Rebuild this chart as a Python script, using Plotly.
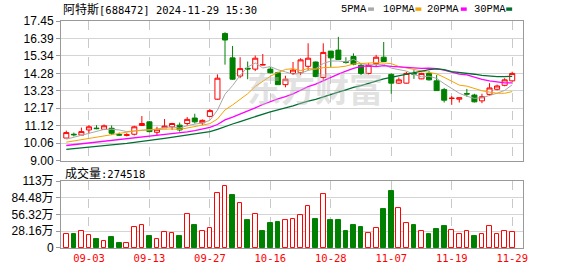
import plotly.graph_objects as go

# ---------------- data ----------------
dates = ["08-29", "08-30", "09-02", "09-03", "09-04", "09-05", "09-06", "09-09", "09-10", "09-11",
         "09-12", "09-13", "09-18", "09-19", "09-20", "09-23", "09-24", "09-25", "09-26", "09-27",
         "09-30", "10-08", "10-09", "10-10", "10-11", "10-14", "10-15", "10-16", "10-17", "10-18",
         "10-21", "10-22", "10-23", "10-24", "10-25", "10-28", "10-29", "10-30", "10-31", "11-01",
         "11-04", "11-05", "11-06", "11-07", "11-08", "11-11", "11-12", "11-13", "11-14", "11-15",
         "11-18", "11-19", "11-20", "11-21", "11-22", "11-25", "11-26", "11-27", "11-28", "11-29"]

opens = [10.37, 10.60, 10.55, 10.86, 10.97, 10.90, 10.96, 10.58, 10.53, 10.60,
         11.13, 11.35, 10.72, 10.99, 11.05, 11.15, 11.25, 11.58, 11.29, 11.68,
         12.72, 16.69, 15.22, 14.12, 14.59, 14.54, 14.79, 14.54, 14.32, 13.60,
         14.28, 14.32, 14.71, 14.97, 14.03, 15.63, 15.69, 14.99, 15.30, 14.77,
         14.28, 14.87, 15.26, 14.22, 13.69, 13.69, 14.28, 13.95, 14.28, 13.83,
         13.30, 12.76, 12.72, 13.06, 12.97, 12.62, 13.01, 13.32, 13.56, 13.83]

highs = [10.82, 10.70, 11.00, 11.15, 11.15, 11.19, 11.13, 10.70, 10.66, 11.11,
         11.70, 11.39, 11.05, 11.52, 11.29, 11.31, 11.64, 11.84, 11.50, 12.13,
         14.22, 16.77, 15.94, 15.26, 15.00, 15.36, 15.45, 14.67, 14.38, 14.14,
         14.97, 15.20, 16.10, 15.00, 16.10, 15.63, 16.49, 15.26, 15.49, 14.91,
         14.91, 15.40, 16.18, 14.28, 14.03, 14.38, 14.48, 14.32, 14.42, 14.18,
         13.40, 12.91, 12.82, 13.34, 13.05, 13.05, 13.69, 13.60, 13.99, 14.38]

lows = [10.37, 10.47, 10.55, 10.66, 10.90, 10.90, 10.55, 10.51, 10.47, 10.53,
        11.13, 10.72, 10.53, 10.99, 10.86, 10.76, 11.09, 11.25, 11.15, 11.64,
        12.68, 14.81, 13.89, 13.99, 13.93, 14.42, 14.77, 14.28, 13.60, 13.44,
        14.18, 14.18, 14.48, 14.05, 13.89, 14.67, 15.10, 14.87, 14.77, 14.18,
        14.22, 14.67, 14.97, 13.05, 13.64, 13.66, 13.95, 13.93, 13.85, 13.24,
        12.52, 12.38, 12.52, 12.87, 12.52, 12.48, 12.95, 13.26, 13.50, 13.79]

closes = [10.70, 10.57, 10.76, 11.05, 10.94, 11.11, 10.66, 10.55, 10.57, 11.05,
          11.25, 10.76, 10.90, 11.09, 11.25, 10.86, 11.50, 11.35, 11.44, 12.03,
          13.99, 16.30, 13.93, 14.57, 14.55, 15.20, 14.81, 14.32, 13.60, 13.93,
          14.48, 15.10, 15.20, 14.09, 15.55, 15.22, 15.12, 14.95, 14.83, 14.28,
          14.77, 15.26, 15.00, 13.69, 13.89, 14.28, 14.24, 14.28, 13.89, 13.24,
          12.66, 12.78, 12.81, 13.03, 12.56, 12.87, 13.40, 13.52, 13.89, 14.28]

ma5 = [10.30, 10.42, 10.55, 10.68, 10.80, 10.89, 10.90, 10.86, 10.76, 10.79,
       10.81, 10.83, 10.90, 11.01, 11.05, 10.97, 11.12, 11.21, 11.28, 11.44,
       12.06, 13.02, 13.54, 14.16, 14.67, 14.91, 14.61, 14.69, 14.50, 14.37,
       14.23, 14.29, 14.46, 14.56, 14.88, 15.03, 15.03, 14.98, 15.13, 14.88,
       14.79, 14.82, 14.83, 14.60, 14.52, 14.42, 14.22, 14.07, 14.11, 13.98,
       13.66, 13.37, 13.08, 12.90, 12.77, 12.81, 12.93, 13.08, 13.25, 13.59]

ma10 = [10.12, 10.20, 10.28, 10.36, 10.44, 10.52, 10.58, 10.64, 10.72, 10.80,
        10.85, 10.87, 10.88, 10.89, 10.92, 10.89, 10.97, 11.06, 11.15, 11.24,
        11.52, 12.07, 12.37, 12.72, 13.05, 13.49, 13.82, 14.11, 14.33, 14.52,
        14.57, 14.45, 14.58, 14.53, 14.63, 14.63, 14.66, 14.72, 14.85, 14.88,
        14.91, 14.93, 14.91, 14.87, 14.70, 14.61, 14.52, 14.45, 14.36, 14.25,
        14.04, 13.79, 13.57, 13.51, 13.38, 13.23, 13.15, 13.08, 13.08, 13.18]

ma20 = [9.92, 9.97, 10.03, 10.08, 10.12, 10.16, 10.20, 10.26, 10.31, 10.37,
        10.43, 10.48, 10.53, 10.58, 10.63, 10.68, 10.74, 10.82, 10.90, 11.02,
        11.19, 11.47, 11.63, 11.81, 11.99, 12.19, 12.40, 12.59, 12.74, 12.88,
        13.04, 13.26, 13.48, 13.63, 13.84, 14.06, 14.24, 14.42, 14.59, 14.71,
        14.74, 14.69, 14.75, 14.70, 14.67, 14.62, 14.59, 14.59, 14.60, 14.57,
        14.48, 14.36, 14.24, 14.19, 14.04, 13.92, 13.83, 13.76, 13.71, 13.71]

ma30 = [9.68, 9.72, 9.77, 9.82, 9.86, 9.91, 9.95, 10.00, 10.05, 10.10,
        10.16, 10.22, 10.29, 10.35, 10.42, 10.49, 10.56, 10.62, 10.68, 10.76,
        10.90, 11.08, 11.22, 11.37, 11.52, 11.68, 11.83, 11.96, 12.08, 12.19,
        12.31, 12.46, 12.61, 12.71, 12.87, 13.01, 13.15, 13.29, 13.44, 13.54,
        13.66, 13.81, 13.95, 14.04, 14.12, 14.24, 14.33, 14.43, 14.51, 14.55,
        14.51, 14.39, 14.35, 14.30, 14.23, 14.16, 14.11, 14.08, 14.09, 14.10]

# volume in 万 (10k)
volumes = [23.3, 23.3, 29.3, 21.7, 15.2, 11.4, 18.4, 8.7, 8.7, 35.9,
           39.1, 20.1, 14.6, 26.1, 24.4, 20.1, 57.1, 38.0, 29.3, 33.0,
           93.0, 104.4, 88.6, 75.0, 46.2, 57.1, 29.3, 41.3, 42.9, 47.3,
           49.5, 55.4, 70.1, 49.5, 91.4, 47.8, 46.2, 28.2, 38.0, 34.8,
           24.4, 34.3, 65.8, 95.2, 66.9, 42.4, 38.0, 27.7, 23.3, 31.5,
           36.4, 31.0, 23.3, 29.3, 20.1, 22.8, 37.5, 22.8, 27.7, 27.4518]

tick_dates = ["09-03", "09-13", "09-27", "10-16", "10-28", "11-07", "11-19", "11-29"]
tick_labels = ["09-03", "09-13", "09-27", "10-16", "10-28", "11-07", "11-19", "11-29"]

price_ticks = [9.00, 10.06, 11.12, 12.17, 13.23, 14.28, 15.34, 16.39, 17.45]
vol_ticks = [0, 28.16, 56.32, 84.48, 112.64]
vol_tick_labels = ["0", "28.16万", "56.32万", "84.48万", "113万"]

title_name = "阿特斯"
title_rest = "[688472] 2024-11-29 15:30"
vol_label = "成交量:274518"
ma_names = ["5PMA", "10PMA", "20PMA", "30PMA"]
ma_colors = ["#a8a8a8", "#f5a300", "#ff00ff", "#006f30"]

RED = "#ff0000"
GREEN = "#008000"

# ---------------- figure ----------------
fig = go.Figure()

fig.add_trace(go.Candlestick(
    x=dates, open=opens, high=highs, low=lows, close=closes,
    increasing=dict(line=dict(color=RED, width=1), fillcolor="#ffffff"),
    decreasing=dict(line=dict(color=GREEN, width=1), fillcolor=GREEN),
    whiskerwidth=0, hoverinfo="skip", showlegend=False, xaxis="x", yaxis="y"))

for name, vals, col, w in zip(ma_names, [ma5, ma10, ma20, ma30], ma_colors, [1, 1, 1.3, 1.3]):
    fig.add_trace(go.Scatter(x=dates, y=vals, mode="lines", name=name,
                             line=dict(color=col, width=w), hoverinfo="skip",
                             showlegend=False, xaxis="x", yaxis="y"))

vol_up = [closes[i] >= (closes[i - 1] if i > 0 else opens[i]) for i in range(len(closes))]
fig.add_trace(go.Bar(
    x=dates, y=volumes, width=0.62,
    marker=dict(color=["#ffffff" if u else GREEN for u in vol_up],
                line=dict(color=[RED if u else GREEN for u in vol_up], width=1)),
    hoverinfo="skip", showlegend=False, xaxis="x2", yaxis="y2"))

axis_line = dict(showline=True, mirror=True, linecolor="#999999", linewidth=1)
xcommon = dict(type="category", categoryorder="array", categoryarray=dates,
               range=[-0.7, 60.43], tickmode="array", tickvals=tick_dates,
               showgrid=True, gridcolor="#c8c8c8", griddash="dash", gridwidth=1,
               zeroline=False, fixedrange=True, **axis_line)

fig.update_layout(
    width=578, height=276,
    margin=dict(l=55, r=55, t=21, b=21),
    paper_bgcolor="#ffffff", plot_bgcolor="#ffffff",
    showlegend=False, bargap=0,
    boxgap=0.3, boxgroupgap=0.05,
    xaxis=dict(domain=[0, 1], anchor="y", showticklabels=False, ticks="",
               rangeslider=dict(visible=False), **xcommon),
    xaxis2=dict(domain=[0, 1], anchor="y2", matches="x", ticktext=tick_labels,
                showticklabels=True, ticks="",
                tickfont=dict(family="DejaVu Sans Mono", size=10.5, color=RED), **xcommon),
    yaxis=dict(domain=[0.3846, 1], anchor="x", range=[9.0, 17.45], tickmode="array",
               tickvals=price_ticks, ticktext=["%.2f" % v for v in price_ticks],
               ticks="outside", ticklen=4, tickcolor="#999999",
               tickfont=dict(family="Liberation Sans", size=12, color="#000000"),
               showgrid=True, gridcolor="#d4d4d4", zeroline=False, **axis_line),
    yaxis2=dict(domain=[0, 0.2949], anchor="x2", range=[0, 112.64], tickmode="array",
                tickvals=vol_ticks, ticktext=vol_tick_labels,
                ticks="outside", ticklen=4, tickcolor="#999999",
                tickfont=dict(family="Liberation Sans, Noto Sans CJK SC", size=12, color="#000000"),
                showgrid=True, gridcolor="#d4d4d4", zeroline=False, **axis_line),
)

# faint watermark
fig.add_annotation(xref="paper", yref="paper", x=(312 - 55) / 468, y=(255 - 90) / 234,
                   xanchor="center", yanchor="middle", showarrow=False, text="东方财富",
                   font=dict(family="Noto Sans CJK SC", size=34, color="rgba(190,190,190,0.45)",
                             weight="bold"))

# title
fig.add_annotation(xref="paper", yref="paper", x=0.0, y=1.0534, xanchor="left", yanchor="middle",
                   showarrow=False,
                   text='<span style="font-family:Noto Sans CJK SC;font-size:12px">' + title_name +
                        '</span>' + title_rest,
                   font=dict(family="DejaVu Sans Mono", size=10.5, color="#000000"))

# volume label
fig.add_annotation(xref="paper", yref="paper", x=0.005, y=0.331, xanchor="left", yanchor="middle",
                   showarrow=False,
                   text='<span style="font-family:Noto Sans CJK SC;font-size:12px">' + vol_label[:3] +
                        '</span>' + vol_label[3:],
                   font=dict(family="DejaVu Sans Mono", size=10.5, color="#000000"))

# legend (text + small colored block)
leg_text_x = [337, 379, 424, 471]
leg_box_x = [366, 414, 460, 506]
for name, col, tx, bx in zip(ma_names, ma_colors, leg_text_x, leg_box_x):
    fig.add_annotation(xref="paper", yref="paper", x=(tx - 55) / 468, y=(255 - 8.5) / 234,
                       xanchor="left", yanchor="middle", showarrow=False, text=name,
                       font=dict(family="Liberation Mono", size=10.5, color="#000000"))
    fig.add_shape(type="rect", xref="paper", yref="paper",
                  x0=(bx - 55) / 468, x1=(bx + 6 - 55) / 468,
                  y0=(255 - 10.5) / 234, y1=(255 - 7) / 234,
                  fillcolor=col, line=dict(width=0))

fig.write_html("out.html")
